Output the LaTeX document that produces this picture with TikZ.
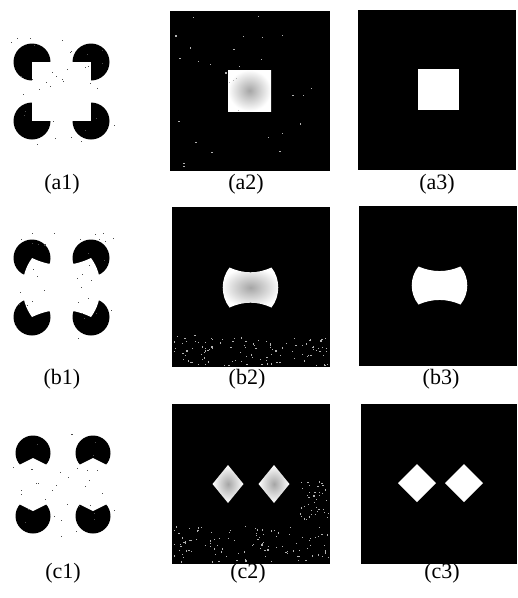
\documentclass[tikz,border=0pt]{standalone}
\usepackage{fontspec}
\setmainfont{Liberation Serif}

% bow-tie outline with its corners at (+-1,+-1)
\newcommand{\bowshape}[1]{%
    \path[#1] (-1,-1) .. controls (-0.33,-0.68) and (0.33,-0.68) .. (1,-1)
        .. controls (1.43,-0.42) and (1.43,0.42) .. (1,1)
        .. controls (0.33,0.68) and (-0.33,0.68) .. (-1,1)
        .. controls (-1.43,0.42) and (-1.43,-0.42) .. cycle;}

\begin{document}
\begin{tikzpicture}[
    x=1pt, y=-1pt,
    panel/.style={
        fill=black,
        inner sep=0pt,
        minimum width=158pt,
        minimum height=160pt
    },
    tag/.style={
        font=\fontsize{22}{26}\selectfont,
        inner sep=0pt
    },
    inducer/.style={fill=black},
    glow/.style={inner color=gray!70, outer color=white},
    speck/.style={fill=gray!60}
]

\useasboundingbox (0,0) rectangle (518,598);

%% row a: square
\foreach \cx/\cy in {32/62, 91/62, 32/121, 91/121}
    \fill[inducer] (\cx,\cy) circle (18.5);
\fill[white] (32,62) rectangle (91,121);

\node[panel, minimum width=160pt] (a2) at (250,91) {};
\node[panel] (a3) at (437,90) {};
\shade[glow] (228,70) rectangle (271,111);
\fill[white] (418,69) rectangle (459,110);

\node[tag] (a1lbl) at (62,184) {(a1)};
\node[tag] (a2lbl) at (246,184) {(a2)};
\node[tag] (a3lbl) at (437,184) {(a3)};

%% row b: bow-tie
\foreach \cx/\cy in {32/258, 91/258, 32/317, 91/317}
    \fill[inducer] (\cx,\cy) circle (18.5);
\begin{scope}[shift={(61.5,287.5)}, xscale=29.5, yscale=29.5]
    \bowshape{fill=white}
\end{scope}

\node[panel] (b2) at (251,287) {};
\node[panel] (b3) at (438,286) {};
\begin{scope}[shift={(250.5,287.5)}, xscale=21, yscale=20]
    \bowshape{shade, glow}
\end{scope}
\begin{scope}[shift={(439.5,285.5)}, xscale=21, yscale=19]
    \bowshape{fill=white}
\end{scope}

\node[tag] (b1lbl) at (62,379) {(b1)};
\node[tag] (b2lbl) at (247,379) {(b2)};
\node[tag] (b3lbl) at (441,379) {(b3)};

%% row c: two diamonds
\foreach \cx/\cy/\s in {33/453/1, 93/453/1, 33/516/-1, 93/516/-1}{
    \fill[inducer] (\cx,\cy) circle (17.5);
    \fill[white] (\cx,\cy+5*\s) -- (\cx+22,\cy+16*\s) -- (\cx+22,\cy+25*\s)
        -- (\cx-22,\cy+25*\s) -- (\cx-22,\cy+16*\s) -- cycle;
}

\node[panel] (c2) at (251,484) {};
\node[panel, minimum width=156pt] (c3) at (439,484) {};
\foreach \dx in {-23,23}
    \shade[glow] ([xshift=\dx pt]c2.center) ++(0,-19) -- ++(15.5,19) -- ++(-15.5,19)
        -- ++(-15.5,-19) -- cycle;
\foreach \dx in {-22,25}
    \fill[white] ([xshift=\dx pt, yshift=1pt]c3.center) ++(0,-19) -- ++(19,19) -- ++(-19,19)
        -- ++(-19,-19) -- cycle;

\node[tag] (c1lbl) at (63,573.5) {(c1)};
\node[tag] (c2lbl) at (248,573.5) {(c2)};
\node[tag] (c3lbl) at (442,573.5) {(c3)};

%% noise
\pgfmathsetseed{42}
\foreach \i in {1,...,30}{
    \pgfmathsetmacro{\px}{173+154*rnd}
    \pgfmathsetmacro{\py}{13+155*rnd}
    \fill[speck] (\px,\py) rectangle ++(1.2,1.2);
}
\foreach \i in {1,...,110}{
    \pgfmathsetmacro{\px}{173+154*rnd}
    \pgfmathsetmacro{\py}{335+30*rnd}
    \fill[speck] (\px,\py) rectangle ++(1.2,1.2);
}
\foreach \i in {1,...,110}{
    \pgfmathsetmacro{\px}{173+156*rnd}
    \pgfmathsetmacro{\py}{525+37*rnd}
    \fill[speck] (\px,\py) rectangle ++(1.2,1.2);
}
\foreach \i in {1,...,40}{
    \pgfmathsetmacro{\px}{300+28*rnd}
    \pgfmathsetmacro{\py}{480+40*rnd}
    \fill[speck] (\px,\py) rectangle ++(1.2,1.2);
}
\foreach \ox/\oy in {0/0, 0/196, 0/392}
    \foreach \i in {1,...,35}{
        \pgfmathsetmacro{\px}{10+105*rnd+\ox}
        \pgfmathsetmacro{\py}{35+110*rnd+\oy}
        \fill[black!70] (\px,\py) rectangle ++(0.9,0.9);
    }

\end{tikzpicture}
\end{document}
